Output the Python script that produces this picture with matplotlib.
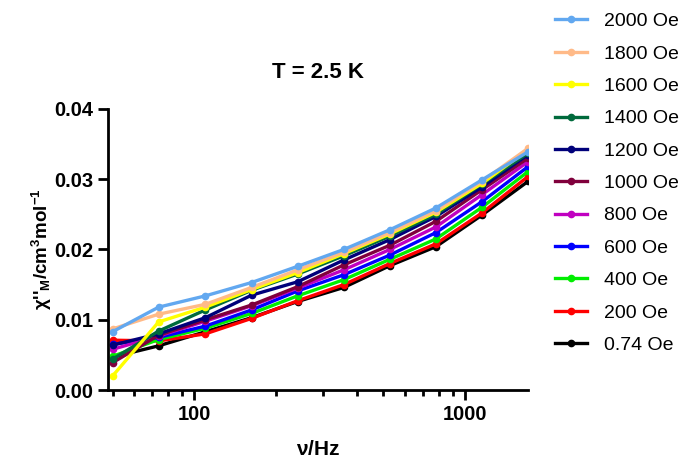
import matplotlib
matplotlib.use('Agg')
import matplotlib.pyplot as plt
from matplotlib.ticker import LogLocator, NullFormatter, FixedLocator

plt.rcParams['font.family'] = ['Liberation Sans', 'DejaVu Sans']
plt.rcParams['mathtext.fontset'] = 'custom'
plt.rcParams['mathtext.rm'] = 'Liberation Sans:bold'
plt.rcParams['mathtext.bf'] = 'Liberation Sans:bold'
plt.rcParams['mathtext.it'] = 'Liberation Sans:bold'

freq = [50, 74, 110, 163, 241, 357, 528, 781, 1156, 1711]

fields = ['2000 Oe', '1800 Oe', '1600 Oe', '1400 Oe', '1200 Oe', '1000 Oe',
          '800 Oe', '600 Oe', '400 Oe', '200 Oe', '0.74 Oe']

chi_2000 = [0.0083, 0.0118, 0.0134, 0.0153, 0.0176, 0.0200, 0.0228, 0.0259, 0.0299, 0.0339]
chi_1800 = [0.0087, 0.0108, 0.0122, 0.0146, 0.0171, 0.0196, 0.0224, 0.0255, 0.0297, 0.0344]
chi_1600 = [0.0020, 0.0097, 0.0118, 0.0143, 0.0167, 0.0194, 0.0222, 0.0253, 0.0294, 0.0342]
chi_1400 = [0.0044, 0.0084, 0.0114, 0.0142, 0.0165, 0.0191, 0.0219, 0.0250, 0.0293, 0.0337]
chi_1200 = [0.0064, 0.0080, 0.0103, 0.0135, 0.0154, 0.0185, 0.0214, 0.0247, 0.0289, 0.0335]
chi_1000 = [0.0039, 0.0078, 0.0100, 0.0121, 0.0147, 0.0178, 0.0206, 0.0240, 0.0285, 0.0330]
chi_800 = [0.0058, 0.0077, 0.0098, 0.0120, 0.0145, 0.0171, 0.0200, 0.0232, 0.0278, 0.0325]
chi_600 = [0.0065, 0.0075, 0.0091, 0.0114, 0.0141, 0.0164, 0.0192, 0.0224, 0.0268, 0.0318]
chi_400 = [0.0048, 0.0072, 0.0088, 0.0109, 0.0134, 0.0157, 0.0186, 0.0215, 0.0260, 0.0311]
chi_200 = [0.0071, 0.0070, 0.0080, 0.0102, 0.0127, 0.0150, 0.0180, 0.0208, 0.0252, 0.0304]
chi_074 = [0.0047, 0.0063, 0.0083, 0.0103, 0.0126, 0.0146, 0.0177, 0.0204, 0.0249, 0.0297]

series = [chi_2000, chi_1800, chi_1600, chi_1400, chi_1200, chi_1000,
          chi_800, chi_600, chi_400, chi_200, chi_074]
colors = ['#62a8f0', '#ffba88', '#ffff00', '#006a3c', '#00007a', '#80003c',
          '#c000c0', '#0000ff', '#00ee00', '#ff0000', '#000000']

fig = plt.figure(figsize=(6.86, 4.59), dpi=100)
ax = fig.add_axes([0.157, 0.150, 0.613, 0.613])

handles = []
for lab, y, c in reversed(list(zip(fields, series, colors))):
    h, = ax.plot(freq, y, color=c, lw=2.4, marker='o', ms=4.5, label=lab)
    handles.append(h)
handles = handles[::-1]

ax.set_xscale('log')
ax.set_xlim(48, 1711)
ax.set_ylim(0, 0.04)
ax.xaxis.set_major_locator(FixedLocator([100, 1000]))
ax.xaxis.set_minor_locator(LogLocator(base=10, subs=range(2, 10)))
ax.xaxis.set_minor_formatter(NullFormatter())
ax.set_xticks([100, 1000])
ax.set_xticklabels(['100', '1000'])
ax.set_yticks([0.00, 0.01, 0.02, 0.03, 0.04])
ax.set_yticklabels(['0.00', '0.01', '0.02', '0.03', '0.04'])

for s in ['top', 'right']:
    ax.spines[s].set_visible(False)
for s in ['left', 'bottom']:
    ax.spines[s].set_linewidth(2)

ax.tick_params(which='major', direction='out', length=7, width=2, labelsize=14.5)
ax.tick_params(which='minor', direction='out', length=4, width=2)
for t in ax.get_xticklabels() + ax.get_yticklabels():
    t.set_fontweight('bold')

ax.set_title('T = 2.5 K', fontsize=16, fontweight='bold', pad=22)
ax.set_xlabel(r'$\nu$/Hz', fontsize=15, fontweight='bold', labelpad=12)
ax.set_ylabel(r"$\chi$''$_\mathrm{M}$/cm$^3$mol$^{-1}$", fontsize=13.5,
              fontweight='bold', labelpad=0)

ax.legend(handles=handles, loc='upper left', bbox_to_anchor=(1.064, 1.342),
          frameon=False, fontsize=14, handlelength=1.65, labelspacing=0.76,
          handletextpad=0.87, borderaxespad=0, borderpad=0)

fig.savefig('out.png', dpi=100)
